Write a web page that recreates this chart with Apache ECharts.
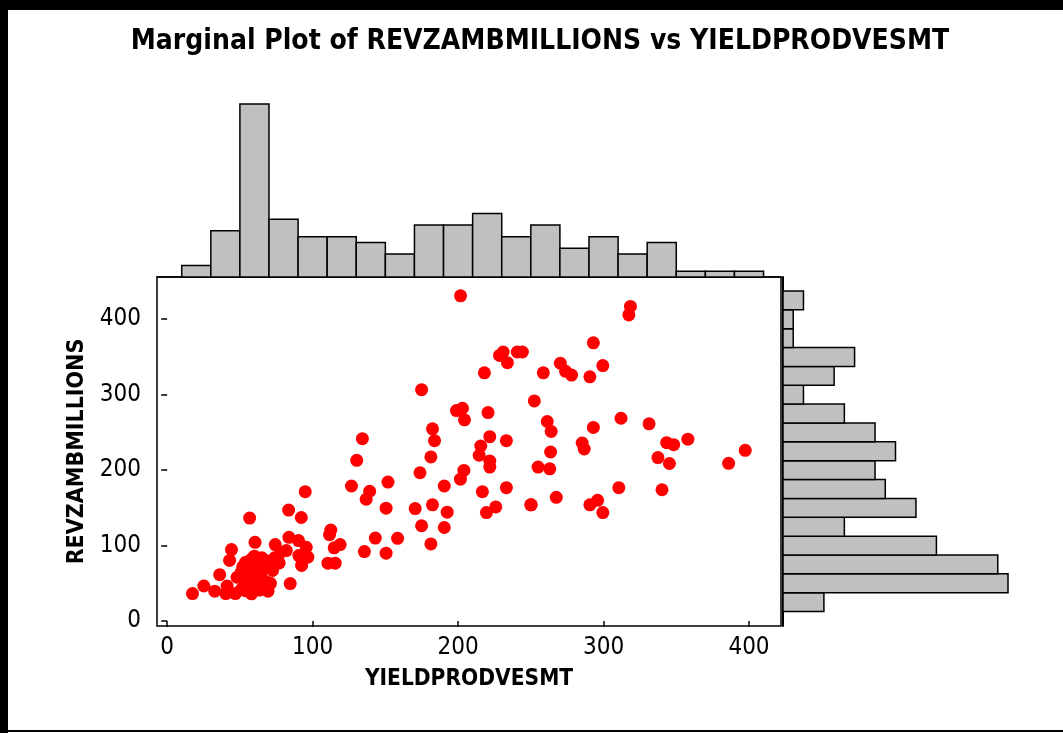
<!DOCTYPE html>
<html>
<head>
<meta charset="utf-8">
<title>Marginal Plot</title>
<script src="https://cdn.jsdelivr.net/npm/echarts@6.0.0/dist/echarts.min.js"></script>
<style>
  html, body { margin: 0; padding: 0; background: #fff; }
  #chart { width: 1063px; height: 733px; }
</style>
</head>
<body>
<div id="chart"></div>
<script>
// scatter values
const yieldProd = [
  318.5, 317.4, 293, 270.3, 273.9, 278, 290.6, 299.5, 258.6, 252.4,
  312, 331.3, 261.3, 264, 293, 285.3, 286.7, 263.6, 255, 263,
  343.4, 348.2, 358, 337.4, 345.3, 397.4, 386, 310.5, 340.2, 267.5,
  250.3, 290.6, 295.9, 299.5, 201.7, 231, 233.9, 240.7, 244.2, 218.1,
  174.9, 198.9, 203, 204.4, 220.6, 182.4, 183.8, 134.2, 221.8, 233.2,
  215.6, 214.5, 221.8, 181.3, 130.3, 221.8, 173.8, 204, 201.6, 190.5,
  216.7, 233.2, 249.9, 94.9, 126.7, 139.2, 136.8, 151.8, 150.5, 170.5,
  182.4, 192.5, 174.9, 190.5, 181.3, 219.5, 225.9, 92.2, 112.5, 111.6,
  143.1, 158.4, 118.9, 114.8, 135.6, 150.5, 95.6, 110.5, 115.5, 90.3,
  83.5, 56.7, 83.7, 96.7, 92.4, 84.6, 74.3, 81.9, 90.5, 44.2,
  42.9, 60.4, 36.1, 25.2, 17.4, 32.7, 41.2, 40.3, 46.9, 69.3,
  228.5,
  72.5, 74, 77, 78, 71, 48,
  60, 54, 51, 68, 63.5, 56.5, 61, 66, 58, 52, 65, 69,
  53, 59, 68, 65.5, 59, 63.5, 61, 56, 67, 51, 62, 57, 64, 54,
  58
];
const revenue = [
  417, 405.7, 368.8, 341.7, 331, 326, 323.7, 338.6, 329, 291.7,
  268.8, 261.4, 264.5, 251.3, 256.6, 236, 228, 224, 204, 201.7,
  236.4, 233.8, 241, 216.7, 208.8, 226.3, 209, 176.7, 174, 164,
  154, 154, 160, 143.8, 431, 356.6, 342.5, 356.6, 356.6, 329,
  306.6, 279, 282, 266.7, 276.3, 254.8, 239, 241.7, 244.3, 239,
  232, 219.7, 212, 217.5, 213, 204, 196.5, 199.6, 188, 179,
  171.4, 176.7, 154, 171.4, 179, 172, 161.4, 184.2, 149.6, 149,
  154, 144.3, 126.3, 124, 102.2, 143.8, 151.3, 137.2, 120.6, 114.5,
  110, 109.6, 101.3, 97, 92, 89.9, 97.8, 76.7, 76.7, 106.6,
  147, 136.4, 111, 84.6, 73.7, 49.6, 101.3, 93.4, 86.8, 94.7,
  80.3, 104.3, 61.4, 46.4, 36.4, 39.5, 46.4, 36.4, 36.4, 39.5,
  352,
  67, 84, 77, 91, 50, 58,
  86, 78, 65, 80, 74, 71, 64, 69, 82, 72, 84, 73,
  54, 43, 52, 55, 54, 41, 60, 47, 45, 42, 50, 58, 62, 40,
  36
];

// top histogram (YIELDPRODVESMT), bin width 20
const xBinStart = [10, 30, 50, 70, 90, 110, 130, 150, 170, 190, 210, 230, 250, 270, 290, 310, 330, 350, 370, 390];
const xBinCount = [2, 8, 30, 10, 7, 7, 6, 4, 9, 9, 11, 7, 9, 5, 7, 4, 6, 1, 1, 1];

// right histogram (REVZAMBMILLIONS), bin width 25, bottom to top
const yBinStart = [12.5, 37.5, 62.5, 87.5, 112.5, 137.5, 162.5, 187.5, 212.5, 237.5, 262.5, 287.5, 312.5, 337.5, 362.5, 387.5, 412.5];
const yBinCount = [4, 22, 21, 15, 6, 13, 10, 9, 11, 9, 6, 2, 5, 7, 1, 1, 2];

const xTicks = [0, 100, 200, 300, 400];
const yTicks = [0, 100, 200, 300, 400];

const FONT = "'DejaVu Sans Condensed', 'Liberation Sans Narrow', 'DejaVu Sans', sans-serif";

const chart = echarts.init(document.getElementById('chart'));

// 直方图矩形, 通过坐标轴换算
const histItem = (horizontal) => (params, api) => {
  const lo = api.value(0), hi = api.value(1), n = api.value(2);
  const p0 = horizontal ? api.coord([0, lo]) : api.coord([lo, 0]);
  const p1 = horizontal ? api.coord([n, hi]) : api.coord([hi, n]);
  return {
    type: 'rect',
    shape: {
      x: Math.min(p0[0], p1[0]),
      y: Math.min(p0[1], p1[1]),
      width: Math.abs(p1[0] - p0[0]),
      height: Math.abs(p1[1] - p0[1])
    },
    style: {fill: '#c0c0c0', stroke: '#000', lineWidth: 1.5}
  };
};

const xRange = {min: -7, max: 422};
const yRange = {min: -6.6, max: 456};

const option = {
  animation: false,
  backgroundColor: '#fff',
  graphic: [
    {type: 'rect', shape: {x: 0, y: 0, width: 1063, height: 10}, style: {fill: '#000'}},
    {type: 'rect', shape: {x: 0, y: 0, width: 8, height: 733}, style: {fill: '#000'}},
    {type: 'rect', shape: {x: 0, y: 730, width: 1063, height: 2}, style: {fill: '#000'}},
    {
      type: 'text', x: 540, y: 42,
      style: {
        text: 'Marginal Plot of REVZAMBMILLIONS vs YIELDPRODVESMT',
        fontFamily: FONT, fontWeight: 'bold', fontSize: 28,
        fill: '#000', align: 'center', verticalAlign: 'middle'
      }
    }
  ],
  grid: [
    {left: 157, top: 277, width: 624, height: 349, show: true, borderColor: '#000', borderWidth: 1.5, backgroundColor: '#fff'},
    {left: 157, top: 104, width: 624, height: 173},
    {left: 783, top: 277, width: 225, height: 349}
  ],
  xAxis: [
    {
      gridIndex: 0, type: 'value', ...xRange,
      name: 'YIELDPRODVESMT', nameLocation: 'middle', nameGap: 42,
      nameTextStyle: {fontFamily: FONT, fontWeight: 'bold', fontSize: 22.5, color: '#000'},
      splitLine: {show: false},
      axisLine: {show: false},
      axisTick: {show: true, length: 6, lineStyle: {color: '#000', width: 1.5}, customValues: xTicks},
      axisLabel: {customValues: xTicks, fontFamily: FONT, fontSize: 24, color: '#000', margin: 10}
    },
    {
      gridIndex: 1, type: 'value', ...xRange,
      splitLine: {show: false}, axisTick: {show: false}, axisLabel: {show: false},
      axisLine: {show: true, lineStyle: {color: '#000', width: 1.5}}
    },
    {
      gridIndex: 2, type: 'value', min: 0, max: 22,
      splitLine: {show: false}, axisTick: {show: false}, axisLabel: {show: false}, axisLine: {show: false}
    }
  ],
  yAxis: [
    {
      gridIndex: 0, type: 'value', ...yRange,
      name: 'REVZAMBMILLIONS', nameLocation: 'middle', nameGap: 68,
      nameTextStyle: {fontFamily: FONT, fontWeight: 'bold', fontSize: 23, color: '#000'},
      splitLine: {show: false},
      axisLine: {show: false},
      axisTick: {show: true, length: 6, lineStyle: {color: '#000', width: 1.5}, customValues: yTicks},
      axisLabel: {customValues: yTicks, fontFamily: FONT, fontSize: 24, color: '#000', margin: 16}
    },
    {
      gridIndex: 1, type: 'value', min: 0, max: 30,
      splitLine: {show: false}, axisTick: {show: false}, axisLabel: {show: false}, axisLine: {show: false}
    },
    {
      gridIndex: 2, type: 'value', ...yRange,
      splitLine: {show: false}, axisTick: {show: false}, axisLabel: {show: false},
      axisLine: {show: true, lineStyle: {color: '#000', width: 2}}
    }
  ],
  series: [
    {
      type: 'scatter', xAxisIndex: 0, yAxisIndex: 0,
      symbol: 'circle', symbolSize: 13,
      itemStyle: {color: '#ff0000', opacity: 1},
      data: yieldProd.map((x, i) => [x, revenue[i]])
    },
    {
      type: 'custom', xAxisIndex: 1, yAxisIndex: 1,
      renderItem: histItem(false),
      encode: {x: [0, 1], y: 2},
      data: xBinStart.map((s, i) => [s, s + 20, xBinCount[i]])
    },
    {
      type: 'custom', xAxisIndex: 2, yAxisIndex: 2,
      renderItem: histItem(true),
      encode: {x: 2, y: [0, 1]},
      data: yBinStart.map((s, i) => [s, s + 25, yBinCount[i]])
    }
  ]
};

chart.setOption(option);
</script>
</body>
</html>
